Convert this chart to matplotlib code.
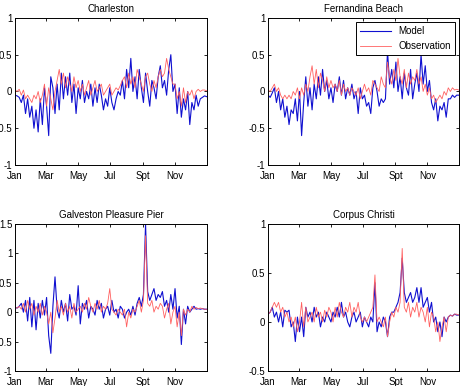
import numpy as np
import matplotlib
matplotlib.use('agg')
import matplotlib.pyplot as plt
from matplotlib.ticker import FuncFormatter

plt.rcParams['font.family'] = ['Liberation Sans', 'DejaVu Sans']

# Daily anomalies sampled every 4 days (day of year 0..364)
days = np.arange(0, 365, 4)

month_ticks = [0, 59, 120, 181, 243, 304]
month_labels = ['Jan', 'Mar', 'May', 'Jul', 'Spt', 'Nov']

charleston_model = [
    -0.05, -0.06, -0.08, -0.15, -0.05, -0.3, -0.1, -0.35, -0.2, -0.5,
    -0.25, -0.55, -0.1, -0.45, 0.05, -0.2, -0.6, 0.2, 0.05, -0.3,
    0.1, -0.25, 0.25, -0.1, 0.2, -0.05, 0.25, -0.15, 0.1, -0.3,
    0.05, -0.1, 0.15, -0.15, 0.0, -0.1, 0.1, -0.2, 0.05, -0.15,
    0.1, -0.05, -0.25, -0.1, -0.2, 0.05, -0.15, -0.25, -0.1, 0.0,
    -0.05, 0.15, -0.1, 0.3, 0.05, 0.45, 0.0, 0.2, -0.1, 0.3,
    0.05, -0.15, 0.25, 0.0, -0.2, 0.15, 0.05, -0.1, 0.2, 0.35,
    0.05, 0.15, -0.05, 0.3, 0.5, 0.0, 0.1, -0.3, 0.05, -0.35,
    -0.1, -0.25, 0.0, -0.45, -0.15, -0.25, -0.05, -0.2, -0.1, -0.08,
    -0.06, -0.07]
charleston_obs = [
    0.02, 0.0, 0.03, -0.05, 0.02, -0.1, -0.05, -0.1, -0.15, -0.05,
    -0.1, 0.0, -0.15, -0.05, 0.1, -0.2, 0.05, -0.1, -0.25, 0.0,
    0.15, 0.3, 0.1, 0.25, 0.05, 0.2, 0.1, 0.0, 0.2, 0.05,
    0.15, 0.0, 0.1, -0.05, 0.05, 0.15, -0.05, 0.05, 0.15, 0.0,
    0.05, 0.1, -0.05, 0.0, 0.05, 0.1, -0.05, 0.0, 0.05, 0.02,
    0.08, 0.15, 0.2, 0.05, 0.25, 0.1, 0.2, 0.05, 0.3, 0.2,
    0.1, 0.0, 0.2, 0.25, 0.1, 0.0, 0.15, 0.05, 0.2, 0.3,
    0.2, 0.25, 0.45, 0.3, 0.2, 0.1, 0.1, -0.1, 0.0, -0.2,
    0.05, -0.15, 0.0, -0.05, 0.02, -0.1, 0.0, 0.03, 0.0, 0.02,
    0.02, 0.01]

fernandina_model = [
    -0.05, -0.08, -0.02, 0.05, -0.15, 0.0, -0.25, -0.1, -0.35, -0.2,
    -0.45, -0.25, -0.3, -0.1, -0.4, 0.0, -0.6, -0.15, 0.2, -0.2,
    0.05, -0.25, 0.1, -0.1, 0.2, -0.05, 0.3, 0.0, 0.15, -0.1,
    0.05, -0.15, 0.1, 0.0, 0.2, -0.05, 0.15, -0.1, 0.05, -0.05,
    0.1, -0.1, 0.0, -0.3, 0.05, -0.1, -0.05, -0.2, -0.15, -0.3,
    0.05, 0.15, 0.0, -0.2, -0.1, -0.15, -0.1, 0.55, 0.1, 0.3,
    0.05, 0.4, 0.0, 0.2, -0.1, 0.25, 0.05, -0.05, 0.3, -0.1,
    0.1, 0.25, 0.0, 0.5, 0.1, 0.35, 0.0, 0.15, -0.15, -0.25,
    -0.1, -0.4, -0.2, -0.25, -0.15, -0.35, -0.1, -0.1, -0.05, -0.08,
    -0.05, -0.05]
fernandina_obs = [
    0.02, 0.0, 0.05, 0.1, 0.0, 0.05, -0.05, -0.1, -0.05, -0.1,
    -0.05, -0.1, 0.0, -0.05, 0.05, -0.1, 0.05, -0.05, 0.1, 0.0,
    0.2, 0.35, 0.1, 0.3, 0.05, 0.25, 0.15, 0.0, 0.2, 0.05,
    0.15, 0.05, 0.1, 0.0, 0.15, -0.05, 0.1, 0.0, 0.05, -0.05,
    0.05, 0.0, -0.05, 0.05, -0.1, 0.0, 0.1, 0.0, 0.05, -0.05,
    0.15, 0.1, 0.05, 0.0, 0.2, 0.1, 0.05, 0.4, 0.2, 0.1,
    0.3, 0.15, 0.45, 0.2, 0.1, 0.3, 0.05, 0.25, 0.1, 0.2,
    0.15, 0.3, 0.1, 0.2, 0.0, 0.1, -0.05, 0.05, -0.1, -0.05,
    -0.15, -0.1, -0.05, -0.1, 0.0, -0.05, 0.05, 0.0, 0.05, 0.02,
    0.03, 0.02]

galveston_model = [
    0.08, 0.07, 0.1, 0.15, 0.0, 0.2, -0.15, 0.25, -0.25, 0.2,
    -0.3, 0.15, -0.1, 0.2, -0.05, 0.25, -0.4, -0.7, 0.1, 0.6,
    0.05, -0.1, 0.2, 0.0, 0.15, -0.15, 0.3, 0.05, 0.1, -0.05,
    0.45, -0.2, 0.15, 0.05, 0.2, -0.1, 0.1, 0.05, -0.05, 0.2,
    0.05, 0.15, -0.1, 0.05, 0.1, -0.05, 0.2, 0.0, 0.05, -0.1,
    0.1, 0.05, -0.1, 0.0, 0.05, -0.05, 0.1, -0.05, 0.15, 0.25,
    0.1, 0.3, 1.5, 0.35, 0.2, 0.3, 0.4, 0.2, 0.3, 0.25,
    0.35, 0.1, 0.2, 0.0, 0.3, 0.05, 0.4, -0.1, 0.1, -0.55,
    0.05, -0.2, 0.1, 0.0, 0.05, 0.1, 0.05, 0.06, 0.05, 0.06,
    0.05, 0.05]
galveston_obs = [
    0.08, 0.07, 0.1, 0.05, 0.15, 0.0, 0.2, 0.05, 0.15, -0.05,
    0.1, 0.0, 0.15, -0.05, 0.1, 0.0, -0.2, 0.0, -0.35, -0.1,
    0.2, 0.0, 0.1, -0.05, 0.15, 0.0, 0.1, -0.1, 0.15, 0.0,
    0.05, 0.1, 0.0, 0.15, 0.05, 0.25, 0.1, 0.0, 0.15, 0.05,
    0.2, 0.0, 0.1, 0.05, 0.15, 0.4, 0.05, 0.0, -0.05, 0.05,
    0.0, -0.05, 0.05, -0.25, 0.0, -0.1, 0.05, 0.0, 0.1, 0.2,
    0.0, 0.2, 1.3, 0.15, 0.1, 0.2, 0.0, 0.1, 0.05, 0.15,
    0.1, -0.1, 0.05, 0.15, -0.2, 0.0, 0.1, -0.25, 0.0, -0.4,
    0.05, -0.05, 0.05, 0.0, 0.1, 0.05, 0.08, 0.06, 0.07, 0.06,
    0.05, 0.05]

corpus_model = [
    0.08, 0.1, 0.15, 0.05, 0.1, 0.0, 0.1, -0.05, 0.12, 0.1,
    0.12, -0.05, 0.0, -0.2, 0.05, -0.1, 0.05, -0.15, 0.15, 0.05,
    0.1, 0.0, 0.15, 0.05, 0.1, -0.05, 0.05, 0.0, 0.1, 0.05,
    0.0, 0.1, 0.05, 0.15, 0.05, 0.2, 0.05, 0.1, 0.0, -0.05,
    0.05, 0.1, 0.0, 0.05, 0.1, -0.05, 0.05, 0.0, -0.05, 0.05,
    0.0, 0.4, -0.1, 0.0, -0.05, 0.05, 0.0, -0.15, 0.05, 0.1,
    0.1, 0.15, 0.2, 0.3, 0.65, 0.3, 0.2, 0.25, 0.3, 0.2,
    0.25, 0.35, 0.2, 0.35, 0.15, 0.2, 0.25, 0.1, 0.2, 0.0,
    0.05, -0.1, 0.0, -0.15, 0.05, 0.0, 0.05, 0.07, 0.06, 0.08,
    0.07, 0.07]
corpus_obs = [
    0.08, 0.1, 0.15, 0.2, 0.15, 0.2, 0.1, 0.15, 0.05, 0.1,
    0.0, 0.05, -0.05, 0.05, -0.1, 0.0, 0.2, -0.05, 0.15, 0.0,
    0.05, 0.1, 0.0, 0.15, 0.05, 0.1, 0.0, 0.12, 0.05, 0.15,
    0.1, 0.0, 0.15, 0.05, 0.2, 0.1, 0.05, 0.15, 0.1, 0.2,
    0.05, 0.15, 0.1, 0.2, 0.05, 0.0, 0.05, 0.0, 0.05, 0.1,
    0.15, 0.48, 0.0, 0.05, 0.0, -0.05, 0.05, -0.15, 0.0, 0.1,
    0.05, 0.15, 0.1, 0.2, 0.75, 0.15, 0.1, 0.2, 0.05, 0.15,
    0.1, 0.2, 0.05, 0.15, 0.1, 0.0, 0.15, -0.05, 0.1, 0.05,
    -0.1, 0.0, -0.2, -0.05, 0.05, -0.1, 0.05, 0.07, 0.06, 0.08,
    0.08, 0.07]

stations = ['Charleston', 'Fernandina Beach', 'Galveston Pleasure Pier', 'Corpus Christi']
models = [charleston_model, fernandina_model, galveston_model, corpus_model]
observations = [charleston_obs, fernandina_obs, galveston_obs, corpus_obs]
y_limits = [(-1, 1), (-1, 1), (-1, 1.5), (-0.5, 1)]
y_ticks = [[-1, -0.5, 0, 0.5, 1], [-1, -0.5, 0, 0.5, 1],
           [-1, -0.5, 0, 0.5, 1, 1.5], [-0.5, 0, 0.5, 1]]

fig = plt.figure(figsize=(4.63, 3.86), dpi=100)
positions = [[0.0324, 0.5725, 0.415, 0.381],
             [0.579, 0.5725, 0.413, 0.381],
             [0.0324, 0.0389, 0.415, 0.381],
             [0.579, 0.0389, 0.413, 0.381]]

for i in range(4):
    ax = fig.add_axes(positions[i])
    ax.plot(days, models[i], color='#1010d0', linewidth=0.8, label='Model')
    ax.plot(days, observations[i], color='#ff6060', linewidth=0.6, label='Observation')
    ax.set_xlim(0, 365)
    ax.set_ylim(*y_limits[i])
    ax.set_xticks(month_ticks)
    ax.set_xticklabels(month_labels)
    ax.set_yticks(y_ticks[i])
    ax.yaxis.set_major_formatter(FuncFormatter(lambda v, p: '%g' % v))
    ax.tick_params(direction='in', top=True, right=True, length=2.5, width=0.6,
                   labelsize=7, pad=2)
    ax.tick_params(axis='x', pad=4)
    for s in ax.spines.values():
        s.set_linewidth(0.7)
    ax.set_title(stations[i], fontsize=7, pad=4)
    if i == 1:
        leg = ax.legend(loc='upper right', fontsize=7, fancybox=False, framealpha=1,
                        edgecolor='black', borderpad=0.4, handlelength=3.2,
                        labelspacing=0.5, borderaxespad=0.45)
        leg.get_frame().set_linewidth(0.7)

fig.savefig('out.png', dpi=100)
